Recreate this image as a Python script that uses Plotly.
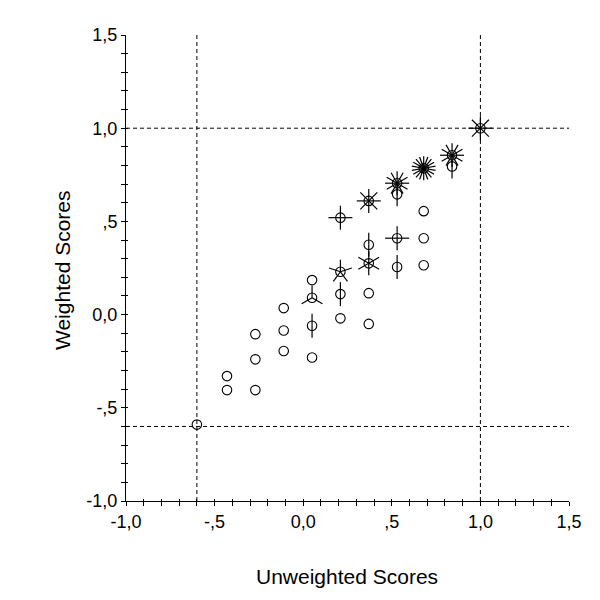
import numpy as np
import plotly.graph_objects as go

# ---- data ----
x_unweighted = [-0.60, -0.43, -0.43, -0.27, -0.27, -0.27, -0.11, -0.11, -0.11,
                0.05, 0.05, 0.05, 0.05,
                0.21, 0.21, 0.21, 0.21,
                0.37, 0.37, 0.37, 0.37, 0.37,
                0.53, 0.53, 0.53, 0.53,
                0.68, 0.68, 0.68, 0.68,
                0.84, 0.84,
                1.00]
y_weighted = [-0.59, -0.33, -0.405, -0.105, -0.24, -0.405, 0.035, -0.085, -0.195,
              0.185, 0.09, -0.06, -0.23,
              0.52, 0.23, 0.11, -0.02,
              0.61, 0.375, 0.275, 0.115, -0.05,
              0.705, 0.645, 0.41, 0.255,
              0.785, 0.555, 0.41, 0.265,
              0.855, 0.795,
              1.00]
case_counts = [1, 1, 1, 1, 1, 1, 1, 1, 1,
               1, 3, 2, 1,
               4, 5, 2, 1,
               8, 2, 6, 1, 1,
               12, 2, 4, 2,
               18, 1, 1, 1,
               12, 2,
               8]
ref_lines = [-0.6, 1.0]
tick_vals = [-1.0, -0.5, 0.0, 0.5, 1.0, 1.5]
tick_text = ["-1,0", "-,5", "0,0", ",5", "1,0", "1,5"]
axis_range = [-1.0, 1.5]

# ---- layout geometry (page has an 8px body margin) ----
OFF = 8
W, H = 600, 600
ML, MT = 126 - OFF, 35 - OFF
plot_w, plot_h = 443, 466
MR = W - ML - plot_w
MB = H - MT - plot_h
px_per_x = plot_w / (axis_range[1] - axis_range[0])
px_per_y = plot_h / (axis_range[1] - axis_range[0])
PETAL = 12  # petal length in pixels

# petals: one line per case, starting straight up, evenly spaced
px_seg, py_seg = [], []
for x, y, n in zip(x_unweighted, y_weighted, case_counts):
    if n < 2:
        continue
    for k in range(n):
        th = np.pi / 2 + 2 * np.pi * k / n
        px_seg += [x, x + PETAL * np.cos(th) / px_per_x, None]
        py_seg += [y, y + PETAL * np.sin(th) / px_per_y, None]

fig = go.Figure()
fig.add_trace(go.Scatter(x=px_seg, y=py_seg, mode="lines",
                         line=dict(color="black", width=1.2),
                         hoverinfo="skip", showlegend=False))
fig.add_trace(go.Scatter(x=x_unweighted, y=y_weighted, mode="markers",
                         marker=dict(symbol="circle-open", size=9.5,
                                     color="black", line=dict(width=1.1)),
                         showlegend=False))
# dummy trace for overlay axes (inner half of crossing ticks)
fig.add_trace(go.Scatter(x=[None], y=[None], xaxis="x2", yaxis="y2",
                         showlegend=False, hoverinfo="skip"))

for v in ref_lines:
    fig.add_shape(type="line", xref="x", yref="y", x0=v, x1=v,
                  y0=axis_range[0], y1=axis_range[1],
                  line=dict(color="black", width=1, dash="4px,3px"), layer="below")
    fig.add_shape(type="line", xref="x", yref="y", y0=v, y1=v,
                  x0=axis_range[0], x1=axis_range[1],
                  line=dict(color="black", width=1, dash="4px,3px"), layer="below")

font_family = "Liberation Sans, Arial, sans-serif"
axis_common = dict(range=axis_range, showgrid=False, zeroline=False,
                   showline=True, linecolor="black", linewidth=1,
                   ticks="outside", ticklen=4, tickwidth=1, tickcolor="black",
                   tickvals=tick_vals, ticktext=tick_text,
                   tickfont=dict(size=18, color="black", family=font_family),
                   minor=dict(dtick=0.1, tick0=-1.0, ticks="outside", ticklen=4,
                              tickwidth=1, tickcolor="black", showgrid=False))
overlay_common = dict(range=axis_range, showgrid=False, zeroline=False,
                      showline=False, showticklabels=False,
                      ticks="inside", ticklen=2, tickwidth=1, tickcolor="black",
                      tickvals=tick_vals,
                      minor=dict(dtick=0.1, tick0=-1.0, ticks="inside", ticklen=2,
                                 tickwidth=1, tickcolor="black", showgrid=False))

fig.update_layout(
    width=W, height=H,
    margin=dict(l=ML, r=MR, t=MT, b=MB),
    paper_bgcolor="white", plot_bgcolor="white",
    font=dict(family=font_family, color="black"),
    xaxis=dict(**axis_common),
    yaxis=dict(**axis_common),
    xaxis2=dict(**overlay_common, overlaying="x", anchor="y2", side="bottom"),
    yaxis2=dict(**overlay_common, overlaying="y", anchor="x2", side="left"),
    annotations=[
        dict(text="Unweighted Scores", xref="paper", yref="paper",
             x=(347 - 126) / plot_w, y=-(576 - 501) / plot_h,
             xanchor="center", yanchor="middle",
             showarrow=False, font=dict(size=21, color="black", family=font_family)),
        dict(text="Weighted Scores", xref="paper", yref="paper",
             x=(62 - 126) / plot_w, y=(501 - 270) / plot_h,
             xanchor="center", yanchor="middle",
             textangle=-90, showarrow=False,
             font=dict(size=21, color="black", family=font_family)),
    ],
)

fig.write_html("out.html")
